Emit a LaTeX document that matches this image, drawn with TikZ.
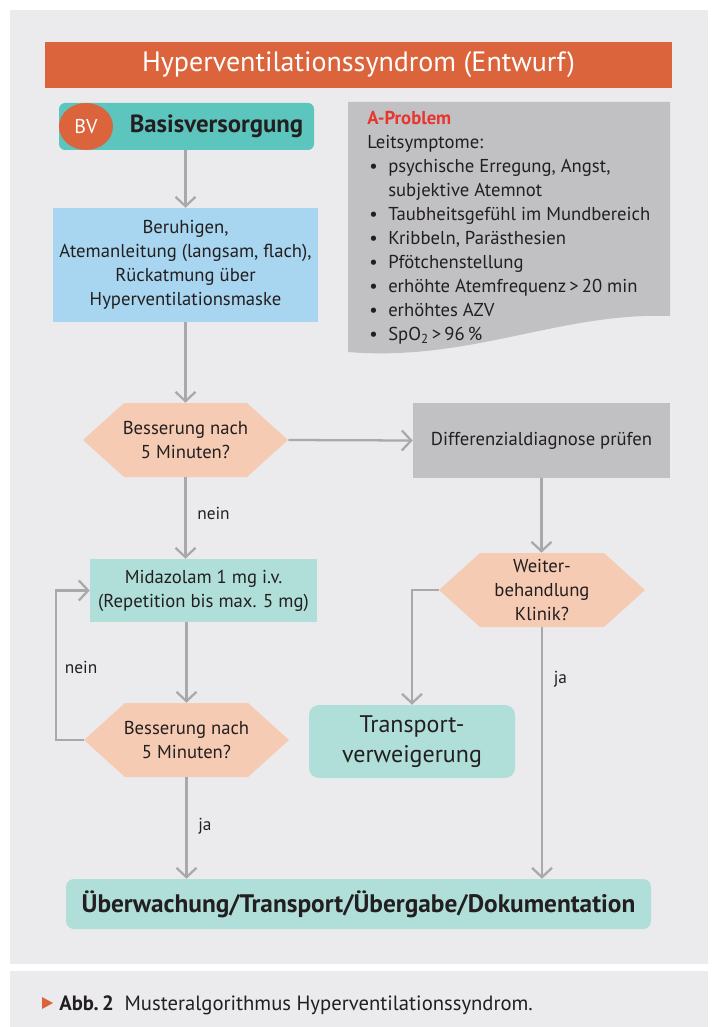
\documentclass[tikz,border=0pt]{standalone}
\usepackage{fontspec}
\setmainfont{PT Sans}
\usetikzlibrary{arrows.meta,shapes.geometric}
\definecolor{pagebg}{HTML}{EBEBED}
\definecolor{titlec}{HTML}{DC643C}
\definecolor{bvteal}{HTML}{5CC5BD}
\definecolor{lblue}{HTML}{A8D5F0}
\definecolor{hexc}{HTML}{F5CBB3}
\definecolor{lteal}{HTML}{B0DFDA}
\definecolor{grayc}{HTML}{C1C1C3}
\definecolor{arrowc}{HTML}{A9A9AB}
\definecolor{textc}{HTML}{231F20}
\definecolor{redc}{HTML}{E8352E}
\newcommand{\bul}{\makebox[15.75pt][l]{\hspace{1.5pt}\textbullet}}
\newcommand{\ind}{\hspace*{15.75pt}}
\begin{document}
\begin{tikzpicture}[x=0.75pt,y=-0.75pt,
  every node/.style={text=textc, inner sep=0pt, font=\fontsize{14}{18}\selectfont},
  sz/.style 2 args={minimum width=#1*0.75pt, minimum height=#2*0.75pt},
  box/.style={align=center},
  hex/.style={align=center, fill=pagebg, path picture={
    \fill[hexc] (path picture bounding box.west)
      -- ([xshift=30.75pt]path picture bounding box.north west)
      -- ([xshift=-30.75pt]path picture bounding box.north east)
      -- (path picture bounding box.east)
      -- ([xshift=-30.75pt]path picture bounding box.south east)
      -- ([xshift=30.75pt]path picture bounding box.south west) -- cycle;}},
  arr/.style={draw=arrowc, line width=1.7pt, -{Straight Barb[length=7pt,width=15pt]}},
  lab/.style={font=\fontsize{13}{16}\selectfont}
]
\useasboundingbox (0,0) rectangle (712,1027);
\fill[white] (0,0) rectangle (712,1027);
\fill[pagebg] (10,10) rectangle (708,964);
\fill[pagebg] (10,971) rectangle (708,1027);

% title
\node[fill=titlec, sz={627}{46}, text=white, font=\fontsize{21}{24}\selectfont] (title) at (358.5,65) {Hyperventilationssyndrom (Entwurf)};

% Basisversorgung
\node[fill=bvteal, sz={255}{47}, rounded corners=4.5pt] (bv) at (186.5,126.5) {};
\node[ellipse, fill=titlec, sz={54}{47}, text=white, font=\fontsize{15}{18}\selectfont] (bvc) at (86,126.5) {BV};
\node[font=\fontsize{18.6}{22}\selectfont\bfseries] (bvt) at (216.5,126.5) {Basisversorgung};

% A-Problem
\fill[grayc] (348,102) -- (670,102) -- (670,316) .. controls (560,312) and (470,362) .. (348,352) -- cycle;
\node[anchor=north west, align=left] (aprob) at (367,111) {{\color{redc}\bfseries A-Problem}\\
Leitsymptome:\\
\bul psychische Erregung, Angst,\\
\ind subjektive Atemnot\\
\bul Taubheitsgefühl im Mundbereich\\
\bul Kribbeln, Parästhesien\\
\bul Pfötchenstellung\\
\bul erhöhte Atemfrequenz\,>\,20 min\\
\bul erhöhtes AZV\\
\bul SpO\textsubscript{2}\,>\,96\,\%};

% flow nodes
\node[box, fill=lblue, sz={265}{114}] (ber) at (185.5,265) {Beruhigen,\\Atemanleitung (langsam, flach),\\Rückatmung über\\Hyperventilationsmaske};
\node[hex, sz={205}{74}] (h1) at (185.5,440) {Besserung nach\\5 Minuten?};
\node[box, fill=grayc, sz={257}{75}] (diff) at (541.5,440.5) {Differenzialdiagnose prüfen};
\node[box, fill=lteal, sz={227}{63}] (mid) at (203.5,590.5) {Midazolam 1 mg i.v.\\(Repetition bis max. 5 mg)};
\node[hex, sz={205}{74}] (h2) at (186.5,740) {Besserung nach\\5 Minuten?};
\node[hex, sz={206}{74}] (h3) at (542,590) {Weiter-\\behandlung\\Klinik?};
\node[box, fill=lteal, sz={206}{73}, rounded corners=7.5pt, font=\fontsize{18}{22.5}\selectfont] (trans) at (412,741.5) {Transport-\\verweigerung};
\node[box, fill=lteal, sz={585}{50}, rounded corners=6pt, font=\fontsize{19}{22}\selectfont\bfseries] (fin) at (358.5,904) {Überwachung/Transport/Übergabe/Dokumentation};

% connectors
\draw[arr] (bv.south -| ber.north) -- (ber.north);
\draw[arr] (ber.south) -- (h1.north);
\draw[arr] (h1.east) -- (diff.west);
\draw[arr] (h1.south) -- node[lab, pos=0.44, anchor=west, xshift=8pt] {nein} (h1.south |- mid.north);
\draw[arr] (h2.north |- mid.south) -- (h2.north);
\draw[arr] (h2.west) -- ++(-28,0) |- node[lab, pos=0.243, anchor=west, xshift=6pt] {nein} (mid.west);
\draw[arr] (h2.south) -- node[lab, pos=0.48, anchor=west, xshift=8pt] {ja} (h2.south |- fin.north);
\draw[arr] (diff.south) -- (diff.south |- h3.north);
\draw[arr] (h3.west) -| (trans.north);
\draw[arr] (h3.south) -- node[lab, pos=0.206, anchor=west, xshift=8pt] {ja} (h3.south |- fin.north);

% caption
\fill[titlec] (42,997) -- (53,1003) -- (42,1009) -- cycle;
\node[anchor=base west, font=\fontsize{15.5}{18}\selectfont] (cap) at (59,1010) {\textbf{Abb.\,2}\hspace{8pt}Musteralgorithmus Hyperventilationssyndrom.};
\end{tikzpicture}
\end{document}
